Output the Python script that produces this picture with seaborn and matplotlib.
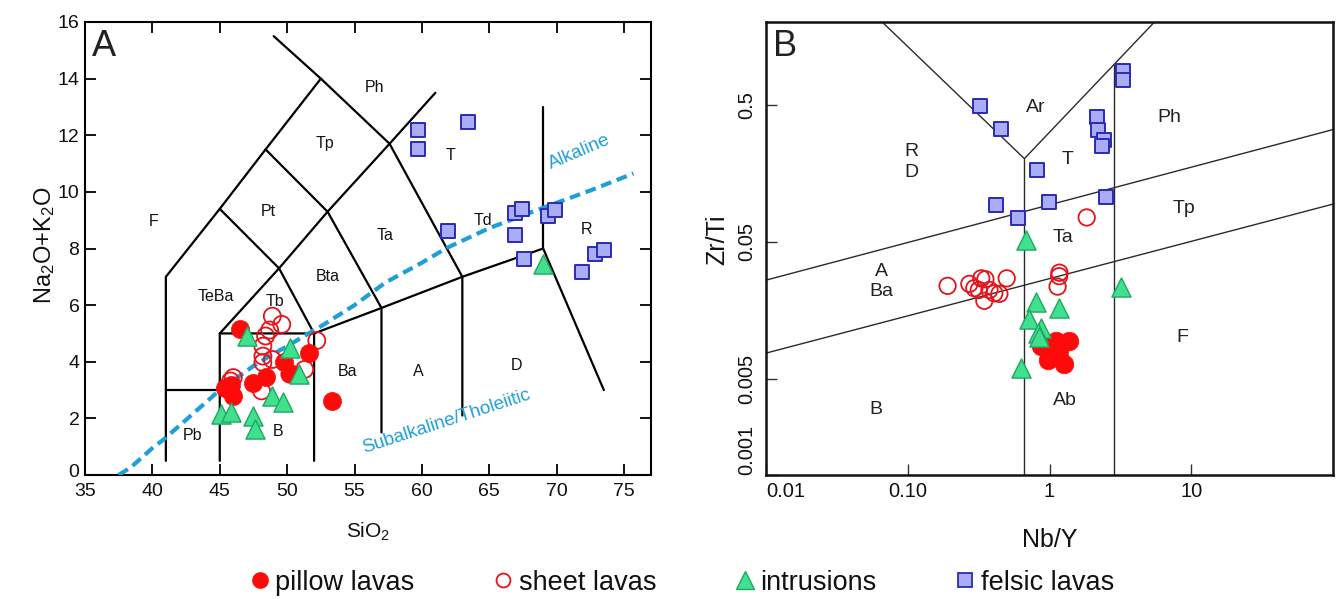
import numpy as np
import pandas as pd
import matplotlib
matplotlib.use("Agg")
import matplotlib.pyplot as plt
from matplotlib.lines import Line2D
import matplotlib.transforms as mtransforms
import seaborn as sns

# ---------------- Panel A (TAS) data ----------------
pillow_sio2 = [46.5, 51.6, 49.8, 50.2, 48.4, 47.5, 45.8, 46.0, 45.4, 53.3]
pillow_alk = [5.17, 4.30, 3.99, 3.62, 3.47, 3.24, 3.17, 2.79, 3.09, 2.61]
sheet_sio2 = [48.9, 49.6, 48.7, 52.2, 48.4, 48.2, 48.2, 48.9, 48.2, 51.3, 50.2, 46.0, 45.8, 48.1]
sheet_alk = [5.61, 5.32, 5.12, 4.75, 4.91, 4.55, 4.20, 4.08, 3.97, 3.73, 3.56, 3.44, 3.32, 2.97]
intr_sio2 = [47.0, 50.2, 50.9, 48.9, 49.7, 45.1, 45.8, 47.5, 47.6, 69.0]
intr_alk = [4.91, 4.50, 3.56, 2.79, 2.59, 2.14, 2.23, 2.08, 1.62, 7.44]
felsic_sio2 = [59.7, 59.7, 63.4, 61.9, 66.9, 67.4, 66.9, 69.35, 69.9, 67.6, 72.85, 73.5, 71.9]
felsic_alk = [12.2, 11.5, 12.47, 8.61, 9.26, 9.40, 8.49, 9.16, 9.35, 7.64, 7.79, 7.96, 7.18]

# TAS field boundaries (polylines, SiO2 / Na2O+K2O)
tas_lines = [
    [(41, 0.5), (41, 7), (45, 9.4), (48.4, 11.5), (52.5, 14), (49, 15.5)],
    [(41, 3), (45, 3)],
    [(45, 0.5), (45, 5), (49.4, 7.3), (53, 9.3), (57.6, 11.7), (61, 13.5)],
    [(45, 9.4), (49.4, 7.3), (52, 5), (52, 0.5)],
    [(48.4, 11.5), (53, 9.3), (57, 5.9), (57, 1.5)],
    [(52.5, 14), (57.6, 11.7), (63, 7), (63, 2.1)],
    [(45, 5), (52, 5), (57, 5.9), (63, 7), (69, 8), (73.5, 3.0)],
    [(69, 8), (69, 13)],
]
tas_labels = ["Ph", "Tp", "Pt", "F", "T", "Td", "R", "Ta", "Bta", "TeBa", "Tb",
              "Ba", "A", "D", "B", "Pb"]
tas_label_x = [56.5, 52.8, 48.6, 40.1, 62.1, 64.5, 72.2, 57.3, 53.0, 44.7, 49.1,
               54.45, 59.75, 67.0, 49.3, 42.95]
tas_label_y = [13.7, 11.7, 9.3, 8.95, 11.3, 9.0, 8.67, 8.45, 7.0, 6.3, 6.14,
               3.67, 3.64, 3.85, 1.52, 1.38]

alk_curve_sio2 = [37.5, 38.4, 40.0, 40.85, 42.5, 45.0, 47.5, 48.7, 50.0, 51.7,
                  52.5, 55.0, 57.3, 60.0, 61.85, 65.0, 67.5, 69.0, 72.5, 75.7]
alk_curve_tot = [0.0, 0.27, 0.95, 1.26, 1.95, 3.0, 3.85, 4.2, 4.55, 5.03,
                 5.25, 6.0, 6.8, 7.5, 8.02, 8.72, 9.17, 9.44, 10.05, 10.65]

# ---------------- Panel B (Nb/Y vs Zr/Ti) data ----------------
pillow_nby = [0.92, 1.11, 1.38, 1.16, 0.97, 1.27, 0.873, 1.03, 1.17]
pillow_zrti = [0.00914, 0.0094, 0.0094, 0.00817, 0.0069, 0.00646, 0.00864, 0.0089, 0.0073]
sheet_nby = [1.83, 0.191, 0.272, 0.295, 0.33, 0.353, 0.317, 0.377, 0.408, 0.443,
             0.347, 0.499, 1.175, 1.17, 1.14]
sheet_zrti = [0.0753, 0.0239, 0.0247, 0.023, 0.0271, 0.0267, 0.0223, 0.0223, 0.0211,
              0.0209, 0.0186, 0.0271, 0.0298, 0.0281, 0.0236]
intr_nby = [0.684, 0.631, 3.2, 0.804, 1.16, 0.721, 0.873, 0.826, 0.849]
intr_zrti = [0.052, 0.006, 0.0236, 0.0183, 0.0164, 0.0137, 0.0117, 0.0109, 0.0101]
felsic_nby = [0.326, 0.456, 0.42, 0.597, 3.28, 3.28, 2.17, 2.21, 2.44, 2.35,
              0.818, 0.987, 2.51]
felsic_zrti = [0.489, 0.334, 0.0927, 0.0742, 0.877, 0.751, 0.406, 0.325, 0.275,
               0.25, 0.166, 0.0968, 0.106]

wf_lines = [
    [(0.066, 2.0), (0.665, 0.202), (5.5, 2.0)],
    [(0.665, 0.001), (0.665, 0.202)],
    [(2.87, 0.001), (2.87, 0.97)],
    [(0.01, 0.0263), (100, 0.329)],
    [(0.01, 0.00773), (100, 0.0942)],
]
wf_labels = ["Ar", "Ph", "T", "Tp", "Ta", "R\nD", "A\nBa", "B", "Ab", "F"]
wf_label_x = [0.80, 7.0, 1.34, 8.9, 1.24, 0.107, 0.0648, 0.06, 1.29, 8.7]
wf_label_y = [0.48, 0.40, 0.199, 0.0877, 0.054, 0.191, 0.0257, 0.003, 0.00348, 0.01]

legend_labels = ["pillow lavas", "sheet lavas", "intrusions", "felsic lavas"]

# ---------------- Style ----------------
sns.set_theme(style="ticks")
plt.rcParams["font.family"] = ["Liberation Sans", "DejaVu Sans"]
plt.rcParams["mathtext.fontset"] = "custom"
plt.rcParams["mathtext.rm"] = "Liberation Sans"
plt.rcParams["mathtext.it"] = "Liberation Sans:italic"
plt.rcParams["mathtext.default"] = "regular"

RED = "#ff0a0a"
RED_EDGE = "#e3141b"
GREEN = "#3fe08e"
GREEN_EDGE = "#1fa862"
BLUE = "#a9adf6"
BLUE_EDGE = "#2b2bb3"
DASH = "#1e9fd8"

W, H = 1337, 599
fig = plt.figure(figsize=(W / 100, H / 100), dpi=100)
fig.patch.set_facecolor("white")
axA = fig.add_axes([85 / W, 1 - 475 / H, (651 - 85) / W, (475 - 22) / H])
axB = fig.add_axes([766 / W, 1 - 475 / H, (1333 - 766) / W, (475 - 22) / H])


def scatter_groups(ax, groups):
    for x, y, style in groups:
        df = pd.DataFrame({"x": x, "y": y})
        sns.scatterplot(data=df, x="x", y="y", ax=ax, legend=False, **style)


# ---------------- Panel A ----------------
for line in tas_lines:
    xs, ys = zip(*line)
    axA.plot(xs, ys, color="black", lw=1.6, solid_joinstyle="miter", zorder=2)

sns.lineplot(x=alk_curve_sio2, y=alk_curve_tot, ax=axA, color=DASH, lw=3.0,
             sort=False, estimator=None, zorder=3)
axA.lines[-1].set_dashes([2.6, 1.4])

for lab, x, y in zip(tas_labels, tas_label_x, tas_label_y):
    axA.text(x, y, lab, ha="center", va="center", fontsize=11.5, color="#111111", zorder=4)

axA.text(71.7, 11.4, "Alkaline", rotation=23, ha="center", va="center",
         fontsize=13.5, color=DASH, zorder=4)
axA.text(61.85, 1.9, "Subalkaline/Tholeiitic", rotation=18, ha="center", va="center",
         fontsize=13.5, color=DASH, zorder=4)

scatter_groups(axA, [
    (sheet_sio2, sheet_alk, dict(marker="o", s=150, facecolor="none", edgecolor=RED_EDGE, linewidth=1.3, zorder=5)),
    (pillow_sio2, pillow_alk, dict(marker="o", s=170, color=RED, edgecolor=RED, linewidth=0.5, zorder=6)),
    (intr_sio2, intr_alk, dict(marker="^", s=190, color=GREEN, edgecolor=GREEN_EDGE, linewidth=1.0, zorder=7)),
    (felsic_sio2, felsic_alk, dict(marker="s", s=110, color=BLUE, edgecolor=BLUE_EDGE, linewidth=1.4, zorder=8)),
])

axA.set_xlim(35, 77)
axA.set_ylim(0, 16)
axA.set_xticks(np.arange(35, 76, 5))
axA.set_yticks(np.arange(0, 17, 2))
axA.tick_params(direction="in", length=8, width=1.3, top=True, right=True,
                labelsize=14, pad=4, colors="black", labelcolor="#111111")
axA.tick_params(axis="x", pad=6)
for sp in axA.spines.values():
    sp.set_linewidth(1.5)
    sp.set_color("black")
# lift the "0" label a touch, as in the reference
zero_lab = axA.get_yticklabels()[0]
zero_lab.set_transform(zero_lab.get_transform() +
                       mtransforms.ScaledTranslation(0, 3 / 72, fig.dpi_scale_trans))
axA.set_xlabel("SiO$_2$", fontsize=15, color="#111111")
axA.set_ylabel("Na$_2$O+K$_2$O", fontsize=17, color="#111111")
axA.xaxis.set_label_coords(0.5, -0.100)
axA.yaxis.set_label_coords(-0.050, 0.508)
axA.text(0.012, 0.985, "A", transform=axA.transAxes, ha="left", va="top",
         fontsize=26, color="#222222")

# ---------------- Panel B ----------------
axB.set_xscale("log")
axB.set_yscale("log")
for line in wf_lines:
    xs, ys = zip(*line)
    axB.plot(xs, ys, color="#2a2a2a", lw=1.0, zorder=2)

for lab, x, y in zip(wf_labels, wf_label_x, wf_label_y):
    axB.text(x, y, lab, ha="center", va="center", fontsize=14, color="#222222",
             linespacing=1.25, zorder=4)

scatter_groups(axB, [
    (sheet_nby, sheet_zrti, dict(marker="o", s=140, facecolor="none", edgecolor=RED_EDGE, linewidth=1.3, zorder=5)),
    (pillow_nby, pillow_zrti, dict(marker="o", s=180, color=RED, edgecolor=RED, linewidth=0.5, zorder=6)),
    (intr_nby, intr_zrti, dict(marker="^", s=190, color=GREEN, edgecolor=GREEN_EDGE, linewidth=1.0, zorder=7)),
    (felsic_nby, felsic_zrti, dict(marker="s", s=105, color=BLUE, edgecolor=BLUE_EDGE, linewidth=1.4, zorder=8)),
])

axB.set_xlim(0.01, 100)
axB.set_ylim(0.001, 2.0)
axB.set_xticks([0.01, 0.1, 1, 10])
axB.set_xticklabels(["0.01", "0.10", "1", "10"])
axB.set_yticks([0.001, 0.005, 0.05, 0.5])
axB.set_yticklabels(["0.001", "0.005", "0.05", "0.5"], rotation=90, va="center")
axB.minorticks_off()
axB.tick_params(direction="in", length=8, width=1.0, labelsize=14.5, pad=5,
                colors="#333333", labelcolor="#111111")
axB.tick_params(axis="y", pad=7)
axB.get_xticklabels()[0].set_ha("left")
axB.get_yticklabels()[0].set_va("bottom")
for sp in axB.spines.values():
    sp.set_linewidth(1.8)
    sp.set_color("#111111")
axB.set_xlabel("Nb/Y", fontsize=18, color="#111111")
axB.set_ylabel("Zr/Ti", fontsize=18, color="#111111")
axB.xaxis.set_label_coords(0.5, -0.118)
axB.yaxis.set_label_coords(-0.065, 0.52)
axB.text(0.012, 0.985, "B", transform=axB.transAxes, ha="left", va="top",
         fontsize=26, color="#222222")

# ---------------- Legend ----------------
handles = [
    Line2D([], [], ls="none", marker="o", ms=11, mfc=RED, mec=RED),
    Line2D([], [], ls="none", marker="o", ms=10, mfc="none", mec=RED_EDGE, mew=1.3),
    Line2D([], [], ls="none", marker="^", ms=13, mfc=GREEN, mec=GREEN_EDGE, mew=1.0),
    Line2D([], [], ls="none", marker="s", ms=10, mfc=BLUE, mec=BLUE_EDGE, mew=1.3),
]
fig.legend(handles, legend_labels, loc="center", bbox_to_anchor=(0.511, 0.027),
           ncol=4, frameon=False, fontsize=19.5, handlelength=0.55, handletextpad=0.3,
           columnspacing=3.0, labelcolor="#111111")

fig.savefig("out.png", dpi=100, facecolor="white")
